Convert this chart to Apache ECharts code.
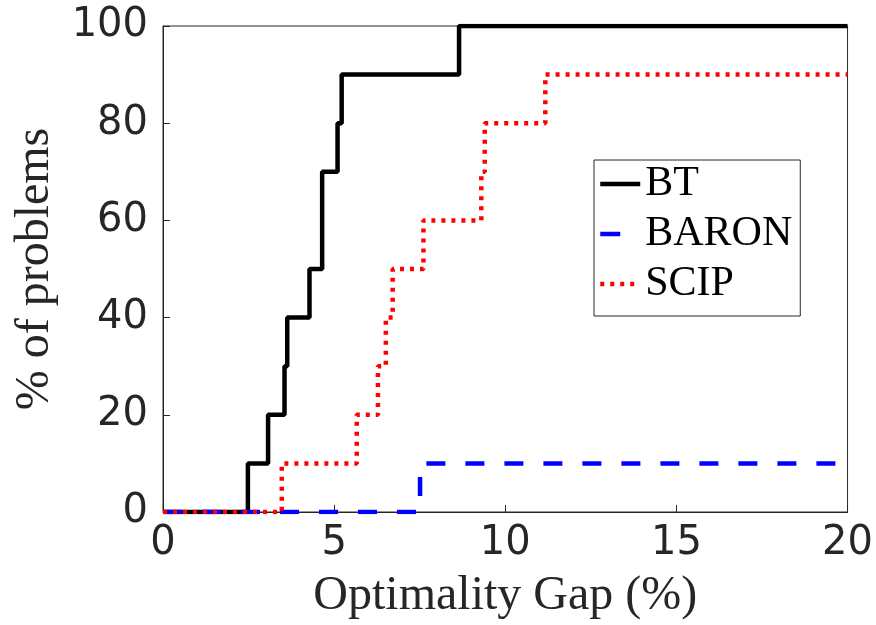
<!DOCTYPE html>
<html><head><meta charset="utf-8">
<script src="https://cdn.jsdelivr.net/npm/echarts@6/dist/echarts.min.js"></script>
<style>html,body{margin:0;padding:0;background:#fff}#c{width:876px;height:625px}</style>
</head><body><div id="c"></div>
<script>
const seriesNames = ['BT', 'BARON', 'SCIP'];
const btX = [0, 2.48, 3.07, 3.55, 3.63, 4.28, 4.65, 5.10, 5.22, 8.65, 20];
const btY = [0, 10, 20, 30, 40, 50, 70, 80, 90, 100, 100];
const baronX = [0, 7.51, 20];
const baronY = [0, 10, 10];
const scipX = [0, 3.47, 5.66, 6.28, 6.51, 6.71, 7.61, 9.30, 9.40, 11.17, 20];
const scipY = [0, 10, 20, 30, 40, 50, 60, 70, 80, 90, 90];
const xTicks = [0, 5, 10, 15, 20];
const yTicks = [0, 20, 40, 60, 80, 100];

const zip = (xs, ys) => xs.map((x, i) => [x, ys[i]]);
const serifFont = '"Liberation Serif", "DejaVu Serif", serif';
const sansFont = '"DejaVu Sans", sans-serif';

const chart = echarts.init(document.getElementById('c'), null, {renderer: 'canvas'});
chart.setOption({
  animation: false,
  backgroundColor: '#fff',
  grid: {left: 163, right: 25, top: 26, bottom: 112, show: true, borderColor: '#262626', borderWidth: 1},
  legend: {
    orient: 'vertical', left: 594, top: 160,
    padding: [2, 8, 10, 4],
    itemGap: 6, itemWidth: 40, itemHeight: 14,
    borderColor: '#262626', borderWidth: 1, borderRadius: 0, backgroundColor: '#fff',
    itemStyle: {color: 'transparent', borderColor: 'transparent', borderWidth: 0, opacity: 0},
    lineStyle: {width: 4.5},
    textStyle: {fontFamily: serifFont, fontSize: 42, lineHeight: 44, height: 44, color: '#000'},
    data: [
      {name: seriesNames[0]},
      {name: seriesNames[1], lineStyle: {width: 4.5, type: [20, 40]}},
      {name: seriesNames[2]}
    ]
  },
  xAxis: {
    type: 'value', min: xTicks[0], max: xTicks[xTicks.length - 1], interval: 5,
    name: 'Optimality Gap (%)', nameLocation: 'middle', nameGap: 60,
    nameTextStyle: {fontFamily: serifFont, fontSize: 48, color: '#262626'},
    axisLine: {show: true, onZero: false, lineStyle: {color: '#262626', width: 1}},
    axisTick: {show: true, inside: true, length: 7, lineStyle: {color: '#262626'}},
    axisLabel: {fontFamily: sansFont, fontSize: 40, color: '#262626', margin: 12},
    splitLine: {show: false}
  },
  yAxis: {
    type: 'value', min: yTicks[0], max: yTicks[yTicks.length - 1], interval: 20,
    name: '% of problems', nameLocation: 'middle', nameGap: 104,
    nameTextStyle: {fontFamily: serifFont, fontSize: 48, color: '#262626'},
    axisLine: {show: true, onZero: false, lineStyle: {color: '#262626', width: 1}},
    axisTick: {show: true, inside: true, length: 7, lineStyle: {color: '#262626'}},
    axisLabel: {fontFamily: sansFont, fontSize: 40, color: '#262626', margin: 15},
    splitLine: {show: false}
  },
  series: [
    {name: 'BT', type: 'line', step: 'end', showSymbol: false, symbol: 'none', z: 3,
     lineStyle: {color: '#000', width: 4.5, type: 'solid'}, itemStyle: {color: '#000'},
     data: zip(btX, btY)},
    {name: 'BARON', type: 'line', step: 'end', showSymbol: false, symbol: 'none', z: 4,
     lineStyle: {color: '#0000ff', width: 4.5, type: [19, 20]}, itemStyle: {color: '#0000ff'},
     data: zip(baronX, baronY)},
    {name: 'SCIP', type: 'line', step: 'end', showSymbol: false, symbol: 'none', z: 5,
     lineStyle: {color: '#ff0000', width: 4.5, type: [4, 6]}, itemStyle: {color: '#ff0000'},
     data: zip(scipX, scipY)}
  ]
});
</script></body></html>
